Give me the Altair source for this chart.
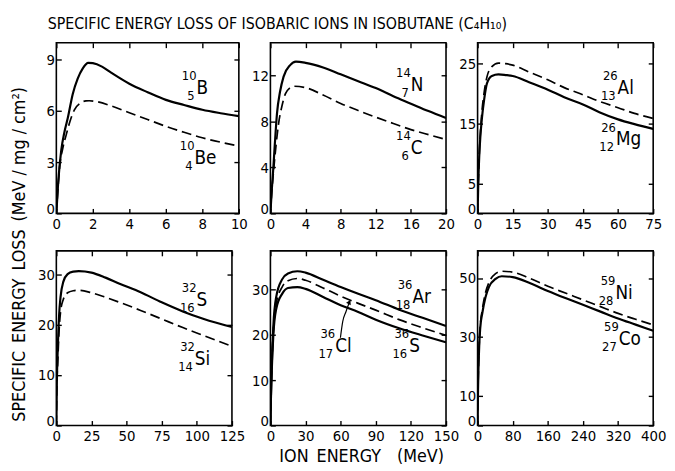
import altair as alt
import pandas as pd

FONT = "Liberation Sans Narrow, DejaVu Sans Condensed, Liberation Sans, sans-serif"

# ---------------- data ----------------
# Panel 1: 10B (solid), 10Be (dashed)
b10_x = [0, 0.1, 0.27, 0.45, 0.63, 0.9, 1.17, 1.45, 1.75, 2.0, 2.5, 3, 4, 5, 6, 7, 8, 9, 10]
b10_y = [0, 1.8, 3.7, 4.8, 5.6, 7.0, 7.9, 8.5, 8.82, 8.8, 8.6, 8.25, 7.6, 7.1, 6.65, 6.35, 6.07, 5.87, 5.7]
be10_x = [0, 0.1, 0.18, 0.35, 0.54, 0.75, 0.99, 1.3, 1.62, 1.8, 2.2, 3, 4, 5, 6, 7, 8, 9, 10]
be10_y = [0, 1.6, 2.7, 3.8, 4.6, 5.4, 6.07, 6.45, 6.59, 6.6, 6.55, 6.3, 5.9, 5.5, 5.1, 4.75, 4.43, 4.17, 3.95]

# Panel 2: 14N (solid), 14C (dashed)
n14_x = [0, 0.15, 0.3, 0.5, 0.75, 1.1, 1.5, 2.25, 2.9, 4, 6, 8, 10, 12, 14, 16, 18, 20]
n14_y = [0, 2.0, 3.6, 6.0, 8.7, 10.6, 11.9, 12.9, 13.2, 13.1, 12.7, 12.1, 11.5, 10.9, 10.2, 9.55, 8.9, 8.3]
c14_x = [0, 0.15, 0.38, 0.65, 0.94, 1.3, 1.7, 2.2, 2.7, 4, 6, 8, 10, 12, 14, 16, 18, 20]
c14_y = [0, 1.8, 3.86, 6.0, 7.86, 9.3, 10.4, 10.9, 11.06, 10.94, 10.3, 9.57, 8.95, 8.37, 7.82, 7.29, 6.85, 6.43]

# Panel 3: 26Al (dashed), 26Mg (solid)
a26_x = [0, 0.3, 0.7, 1.2, 1.8, 2.8, 4, 6.1, 8.9, 12, 15, 22, 30, 37, 45, 52, 60, 67, 75]
al26_y = [0, 5, 9.7, 13.5, 16.8, 20.2, 22.8, 24.5, 25.1, 25.0, 24.75, 23.6, 22.3, 21.0, 19.8, 18.7, 17.65, 16.7, 15.85]
mg26_y = [0, 5, 9.5, 12.9, 15.7, 19.0, 21.7, 22.95, 23.2, 23.1, 22.95, 21.9, 20.66, 19.4, 18.2, 16.9, 15.7, 14.9, 14.1]

# Panel 4: 32S (solid), 32Si (dashed)
a32_x = [0, 0.4, 1, 2, 3, 5, 8, 12, 16, 25, 35, 45, 60, 75, 90, 105, 125]
s32_y = [0, 9, 15, 22, 25.5, 28.5, 30, 30.5, 30.6, 30.3, 29.3, 28.1, 26.4, 24.4, 22.6, 21.1, 19.5]
si32_y = [0, 8, 12.5, 19, 22.5, 25, 26.3, 26.7, 26.8, 26.3, 25.4, 24.4, 22.8, 21.1, 19.4, 17.8, 15.7]

# Panel 5: 36Ar (solid), 36Cl (dashed), 36S (solid)
a36_x = [0, 0.4, 1, 2.5, 5, 10, 15, 23, 30, 45, 60, 75, 90, 110, 130, 150]
ar36_y = [0, 6, 12, 22, 28.5, 32.3, 33.6, 34.1, 33.8, 32.2, 30.6, 29.1, 27.7, 25.6, 23.8, 22.0]
cl36_y = [0, 6, 11.5, 21, 27, 30.6, 32.0, 32.5, 32.1, 30.4, 28.6, 27.0, 25.5, 23.4, 21.6, 19.9]
s36_y = [0, 5.5, 11, 20, 25.8, 29.1, 30.4, 30.6, 30.2, 28.4, 26.6, 25.1, 23.4, 21.5, 19.9, 18.4]
arrow_x = [59.8, 61.8, 64.6, 67.5]
arrow_y = [19.4, 23.0, 25.2, 27.3]

# Panel 6: 59Ni (dashed), 59Co (solid)
a59_x = [0, 1, 2, 3.7, 6, 11, 18, 26, 41, 55, 80, 120, 160, 200, 240, 280, 320, 360, 400]
co59_y = [0, 12, 19, 27, 33, 38.3, 43.5, 47, 49.7, 50.6, 50.3, 48.2, 45.6, 43.2, 40.9, 38.6, 36.3, 34.2, 32.1]
ni59_y = [0, 12, 19.5, 27.5, 33.5, 39.5, 45, 48.5, 51.5, 52.3, 52.0, 49.8, 47.2, 44.9, 42.6, 40.3, 38.0, 36.0, 34.1]

# isotope labels: (x, y, symbol, mass number, atomic number)
labels_1 = [(7.68, 7.33, "B", "10", "5"), (7.57, 3.23, "Be", "10", "4")]
labels_2 = [(15.98, 11.14, "N", "14", "7"), (15.98, 5.71, "C", "14", "6")]
labels_3 = [(59.8, 20.9, "Al", "26", "13"), (59.1, 12.35, "Mg", "26", "12")]
labels_4 = [(99.8, 24.8, "S", "32", "16"), (98.6, 13.2, "Si", "32", "14")]
labels_5 = [(121.3, 28.4, "Ar", "36", "18"), (55.3, 17.5, "Cl", "36", "17"), (118.5, 17.5, "S", "36", "16")]
labels_6 = [(314, 44.8, "Ni", "59", "28"), (321.5, 29.2, "Co", "59", "27")]

SP = "\u2002"
TITLE = "SPECIFIC ENERGY LOSS OF ISOBARIC IONS IN ISOBUTANE (C₄H₁₀)"
YTITLE = SP.join(["SPECIFIC", "ENERGY", "LOSS", "(MeV / mg / cm²)"])
XTITLE = "ION" + SP + "ENERGY" + SP + SP + "(MeV)"

TS = 5


def panel(series, labels, xdom, ydom, xticks, yticks, w, h, xtitle=None, ytitle=None, arrow=None):
    rows = []
    for name, style, xs, ys in series:
        for a, b in zip(xs, ys):
            rows.append({"x": a, "y": b, "series": name, "style": style})
    df = pd.DataFrame(rows)
    lab = pd.DataFrame(labels, columns=["x", "y", "sym", "mass", "z"])
    xsc = alt.Scale(domain=xdom, nice=False, zero=False)
    ysc = alt.Scale(domain=ydom, nice=False, zero=False)

    common = dict(offset=-TS, tickSize=TS, grid=False, domain=False, tickColor="black", tickWidth=1.4,
                  labelOverlap=False, labelFlush=False)
    xb = dict(orient="bottom", values=xticks, labelPadding=3, title=None, **common)
    if xtitle:
        xb.update(title=xtitle, titleX=w / 2 + 3, titleY=37, titleAlign="center", titleBaseline="middle",
                  titleFontSize=18, titleFont=FONT, titleFontWeight="normal", titleColor="black")
    yl = dict(orient="left", values=yticks, labelPadding=2, title=None,
              labelBaseline=alt.condition("datum.value == 0", alt.value("alphabetic"), alt.value("middle")),
              **common)
    if ytitle:
        yl.update(title=ytitle, titleX=-42, titleY=3, titleAngle=270, titleAlign="center",
                  titleBaseline="middle", titleFontSize=18, titleFont=FONT, titleFontWeight="normal",
                  titleColor="black")
    xt = dict(orient="top", values=xticks, labels=False, title=None, **common)
    yr = dict(orient="right", values=yticks, labels=False, title=None, **common)

    base = alt.Chart(df)
    solid = base.transform_filter(alt.datum.style == "solid").mark_line(
        color="black", strokeWidth=2.2, interpolate="monotone", clip=True
    ).encode(
        x=alt.X("x:Q", scale=xsc, axis=alt.Axis(**xb)),
        y=alt.Y("y:Q", scale=ysc, axis=alt.Axis(**yl)),
        detail="series:N",
    )
    dashed = base.transform_filter(alt.datum.style == "dashed").mark_line(
        color="black", strokeWidth=1.7, strokeDash=[10, 5], interpolate="monotone", clip=True
    ).encode(
        x=alt.X("x:Q", scale=xsc, axis=alt.Axis(**xt)),
        y=alt.Y("y:Q", scale=ysc, axis=alt.Axis(**yr)),
        detail="series:N",
    )
    lb = alt.Chart(lab)
    enc = dict(x=alt.X("x:Q", scale=xsc, axis=None), y=alt.Y("y:Q", scale=ysc, axis=None))
    sym = lb.mark_text(align="left", baseline="middle", fontSize=19, font=FONT, color="black").encode(
        text="sym:N", **enc)
    mass = lb.mark_text(align="right", baseline="middle", dy=-12, dx=0, fontSize=13, font=FONT,
                        color="black").encode(text="mass:N", **enc)
    zz = lb.mark_text(align="right", baseline="middle", dy=8, dx=-2, fontSize=13, font=FONT,
                      color="black").encode(text="z:N", **enc)
    layers = [solid, dashed, sym, mass, zz]
    if arrow is not None:
        adf = pd.DataFrame({"x": arrow[0], "y": arrow[1], "o": list(range(len(arrow[0])))})
        aline = alt.Chart(adf).mark_line(color="black", strokeWidth=1.2, interpolate="monotone").encode(
            x=alt.X("x:Q", scale=xsc, axis=None), y=alt.Y("y:Q", scale=ysc, axis=None), order="o:Q")
        tip = alt.Chart(adf.tail(1)).mark_point(shape="triangle-up", filled=True, color="black",
                                                 size=28, angle=28, opacity=1).encode(
            x=alt.X("x:Q", scale=xsc, axis=None), y=alt.Y("y:Q", scale=ysc, axis=None))
        layers += [aline, tip]
    return alt.layer(*layers).resolve_axis(x="independent", y="independent").properties(width=w, height=h)


p1 = panel([("B", "solid", b10_x, b10_y), ("Be", "dashed", be10_x, be10_y)], labels_1,
           [0, 10], [0, 10], [0, 2, 4, 6, 8, 10], [0, 3, 6, 9], 185, 173)
p2 = panel([("N", "solid", n14_x, n14_y), ("C", "dashed", c14_x, c14_y)], labels_2,
           [0, 20], [0, 14.85], [0, 4, 8, 12, 16, 20], [0, 4, 8, 12], 178, 173)
p3 = panel([("Mg", "solid", a26_x, mg26_y), ("Al", "dashed", a26_x, al26_y)], labels_3,
           [0, 75], [0, 28.5], [0, 15, 30, 45, 60, 75], [0, 5, 15, 25], 178, 173)
p4 = panel([("S", "solid", a32_x, s32_y), ("Si", "dashed", a32_x, si32_y)], labels_4,
           [0, 125], [0, 34.6], [0, 25, 50, 75, 100, 125], [0, 10, 20, 30], 178, 177, ytitle=YTITLE)
p5 = panel([("Ar", "solid", a36_x, ar36_y), ("S", "solid", a36_x, s36_y), ("Cl", "dashed", a36_x, cl36_y)],
           labels_5, [0, 150], [0, 38.6], [0, 30, 60, 90, 120, 150], [0, 10, 20, 30], 178, 177,
           xtitle=XTITLE, arrow=(arrow_x, arrow_y))
p6 = panel([("Co", "solid", a59_x, co59_y), ("Ni", "dashed", a59_x, ni59_y)], labels_6,
           [0, 400], [0, 59.2], [0, 80, 160, 240, 320, 400], [0, 10, 30, 50], 178, 177)

chart = alt.ConcatChart(
    concat=[p1, p2, p3, p4, p5, p6],
    columns=3,
    spacing=alt.RowColnumber(row=38, column=32),
    bounds="flush",
    background="white",
    padding={"left": 2, "top": 5, "right": 0, "bottom": 5},
    title=alt.TitleParams(TITLE, anchor="start", fontSize=16, font=FONT, fontWeight="normal",
                          color="black", dx=38, offset=9),
).configure_view(stroke="black", strokeWidth=1.6).configure_axis(
    domain=False, grid=False, tickColor="black", tickWidth=1.4, labelColor="black",
    labelFont=FONT, labelFontSize=15, titleColor="black"
)

chart.save("out.html", embed_options={"renderer": "svg", "actions": False})
